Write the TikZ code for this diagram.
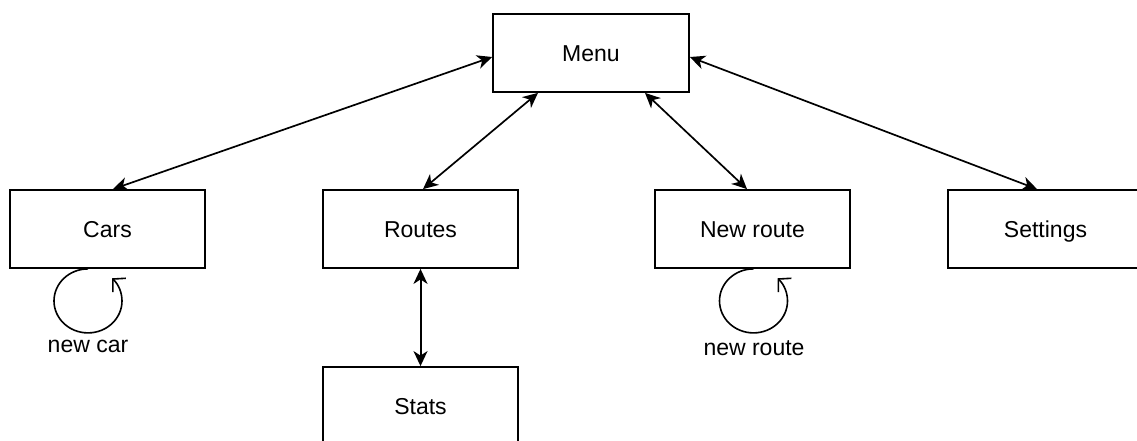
\documentclass[tikz,border=0pt]{standalone}
\usepackage{fontspec}
\setmainfont{Liberation Sans}
\usetikzlibrary{arrows.meta}
\begin{document}
\begin{tikzpicture}[x=1pt,y=1pt,
  screen/.style={draw, line width=1.8pt, minimum width=195pt, minimum height=78pt,
    inner sep=0pt, text height=16.5pt, text depth=0pt,
    font=\fontsize{23}{27}\selectfont},
  link/.style={line width=1.7pt,
    {Stealth[length=15pt,width=14pt,inset=4.5pt]}-{Stealth[length=15pt,width=14pt,inset=4.5pt]}},
  selfloop/.style={line width=1.6pt,
    -{Straight Barb[length=9pt,width=19pt,line width=1.6pt]}},
  looplabel/.style={font=\fontsize{23}{27}\selectfont, inner sep=0pt, anchor=north}]

  % canvas
  \useasboundingbox (0,0) rectangle (1137,440);
  \clip (0,0) rectangle (1137,440);
  \fill[white] (0,0) rectangle (1137,440);

  % screens
  \node[screen, minimum width=196pt] (menu) at (591,387) {Menu};
  \node[screen] (cars)     at (107.5,211) {Cars};
  \node[screen] (routes)   at (420.5,211) {Routes};
  \node[screen] (newroute) at (752.5,211) {New route};
  \node[screen] (settings) at (1045.5,211) {Settings};
  \node[screen] (stats)    at (420.5,34)  {Stats};

  % navigation between screens
  \draw[link] ([yshift=-4pt]menu.west)  -- ([xshift=5.5pt]cars.north);
  \draw[link] ([xshift=-53pt]menu.south) -- ([xshift=2.5pt]routes.north);
  \draw[link] ([xshift=54pt]menu.south)  -- ([xshift=-5.5pt]newroute.north);
  \draw[link] ([yshift=-4pt]menu.east)  -- ([xshift=-8.5pt]settings.north);
  \draw[link, line width=2pt] (routes.south) -- (stats.north);

  % self loops
  \draw[selfloop] ([xshift=-19.5pt]cars.south)
    arc[start angle=90, end angle=405, x radius=34, y radius=32];
  \draw[selfloop] ([xshift=1pt]newroute.south)
    arc[start angle=90, end angle=405, x radius=34, y radius=32];

  % loop labels
  \node[looplabel] (carlabel)   at (88,100)  {new car};
  \node[looplabel] (routelabel) at (754,100) {new route};
\end{tikzpicture}
\end{document}
